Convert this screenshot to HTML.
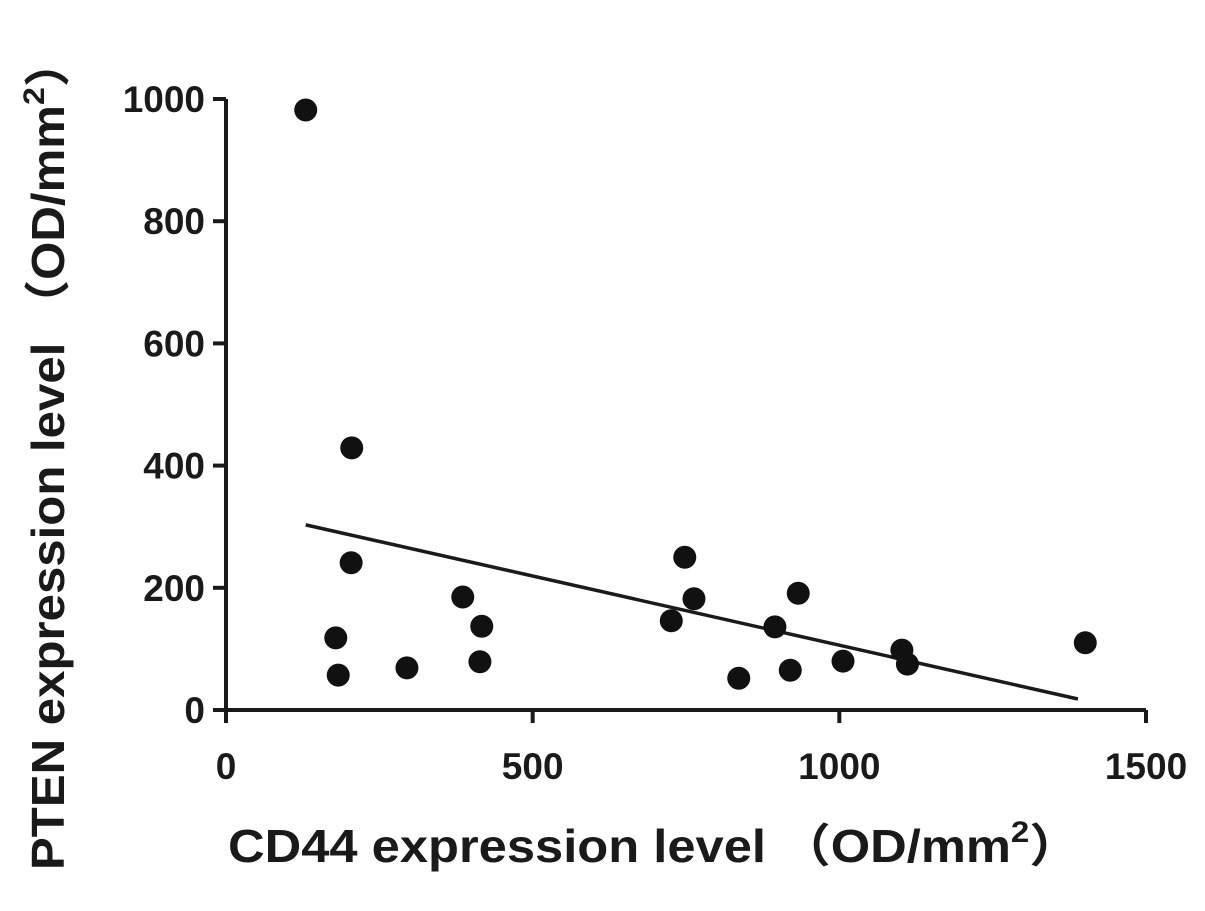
<!DOCTYPE html>
<html><head><meta charset="utf-8"><style>
html,body{margin:0;padding:0;background:#fff;}
svg text{font-family:"Liberation Sans","Noto Sans CJK SC",sans-serif;font-weight:bold;fill:#1a1a1a;}
</style></head><body>
<svg id="chart" width="1205" height="906" viewBox="0 0 1205 906" xmlns="http://www.w3.org/2000/svg">
<g id="axes"></g><g id="marks"></g>
<text x="228" y="862" font-size="46" textLength="852" lengthAdjust="spacingAndGlyphs">CD44 expression level （OD/mm<tspan font-size="30" dy="-20">2</tspan><tspan dy="20">）</tspan></text>
<text transform="translate(64,870) rotate(-90)" font-size="46" textLength="832" lengthAdjust="spacingAndGlyphs">PTEN expression level （OD/mm<tspan font-size="30" dy="-20">2</tspan><tspan dy="20">）</tspan></text>
</svg>
<script>
const xValues=[130,205,204,179,183,295,386,417,414,726,748,763,836,895,920,933,1006,1102,1111,1401];
const yValues=[982,429,241,118,57,69,185,137,79,146,250,182,52,136,65,191,80,98,75,110];
const xTicks=[0,500,1000,1500];
const yTicks=[0,200,400,600,800,1000];
const fitStart=[130,303];
const fitEnd=[1389,18];
const X=v=>226+v*(920/1500);
const Y=v=>710-v*(611/1000);
const NS="http://www.w3.org/2000/svg";
const axes=document.getElementById('axes'),marks=document.getElementById('marks');
function mk(tag,attrs,parent){const e=document.createElementNS(NS,tag);for(const k in attrs)e.setAttribute(k,attrs[k]);parent.appendChild(e);return e;}
let l=mk('line',{x1:226,y1:Y(1000),x2:226,y2:710,stroke:'#1a1a1a','stroke-width':4},axes);


l=mk('line',{x1:226,y1:710,x2:X(1500),y2:710,stroke:'#1a1a1a','stroke-width':4},axes);


yTicks.forEach(v=>{
 const t=mk('line',{x1:213,y1:Y(v),x2:226,y2:Y(v),stroke:'#1a1a1a','stroke-width':4},axes);
 
 
 const tx=mk('text',{x:205,y:Y(v)+13,'font-size':37,'text-anchor':'end'},axes);tx.textContent=v;
 
 
});
xTicks.forEach(v=>{
 const t=mk('line',{x1:X(v),y1:710,x2:X(v),y2:723,stroke:'#1a1a1a','stroke-width':4},axes);
 
 
 const tx=mk('text',{x:X(v),y:779,'font-size':37,'text-anchor':'middle'},axes);tx.textContent=v;
 
 
});
const fit=mk('line',{x1:X(fitStart[0]),y1:Y(fitStart[1]),x2:X(fitEnd[0]),y2:Y(fitEnd[1]),stroke:'#1a1a1a','stroke-width':3.5},marks);


xValues.forEach((xv,i)=>{
 const c=mk('circle',{cx:X(xv),cy:Y(yValues[i]),r:11.5,fill:'#111'},marks);
 
 
});
</script>
</body></html>
